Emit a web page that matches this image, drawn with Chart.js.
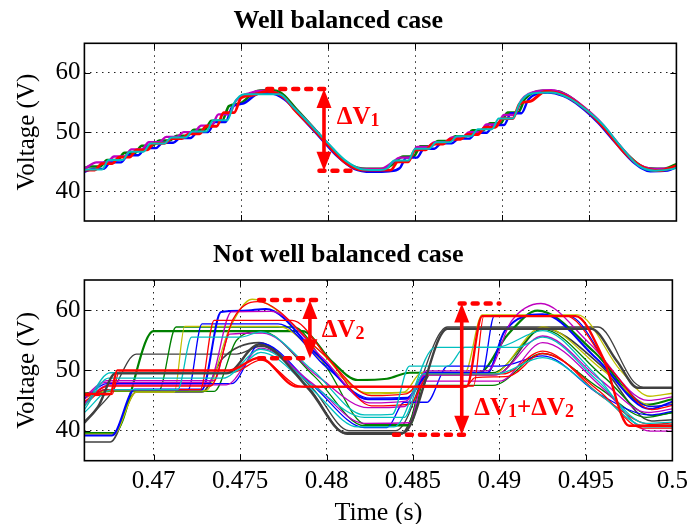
<!DOCTYPE html>
<html>
<head>
<meta charset="utf-8">
<script src="https://cdn.jsdelivr.net/npm/chart.js@4.4.1/dist/chart.umd.min.js"></script>
<style>
  html, body { margin: 0; padding: 0; background: #fff; }
  #wrap { position: relative; width: 694px; height: 524px; }
  #c1 { position: absolute; left: 0; top: 0; }
  #c2 { position: absolute; left: 0; top: 240px; }
</style>
</head>
<body>
<div id="wrap">
  <canvas id="c1" width="694" height="240"></canvas>
  <canvas id="c2" width="694" height="284"></canvas>
</div>
<script>
// axes
const X_TICKS = [0.47, 0.475, 0.48, 0.485, 0.49, 0.495, 0.5];
const X_TICK_LABELS = ['0.47', '0.475', '0.48', '0.485', '0.49', '0.495', '0.5'];
const Y_TICKS = [40, 50, 60];
const Y_TICK_LABELS = ['40', '50', '60'];

// --- Well balanced case: [time (s), voltage (V)] ---
const TOP_CYAN = [[0.466,43.6],[0.4662,43.7],[0.4670,43.7],[0.4674,45.3],[0.4682,45.3],[0.4686,46.7],[0.4694,46.7],[0.4698,48.1],[0.4706,48.1],[0.4710,49.1],[0.4718,49.1],[0.4722,50.1],[0.4730,50.1],[0.4734,52.0],[0.4742,52.0],[0.4746,54.9],[0.4752,56.4],[0.4764,56.4],[0.4772,56.4],[0.4780,54.2],[0.4790,51.2],[0.4800,48.1],[0.4810,45.2],[0.4820,43.7],[0.4830,43.6],[0.4834,43.9],[0.4838,45.2],[0.4846,45.2],[0.4850,47.2],[0.4858,47.2],[0.4862,48.3],[0.4870,48.3],[0.4874,49.3],[0.4882,49.3],[0.4886,50.5],[0.4894,50.5],[0.4898,52.3],[0.4906,52.3],[0.4910,54.9],[0.4916,56.5],[0.4928,56.7],[0.4938,55.8],[0.4948,53.8],[0.4958,51.2],[0.4968,47.6],[0.4978,44.4],[0.4988,43.5],[0.4998,43.8],[0.5,44.0]];
const TOP_RED = [[0.466,43.6],[0.4666,43.6],[0.467,44.7],[0.4676,44.7],[0.468,45.8],[0.4686,45.8],[0.469,47.0],[0.4696,47.0],[0.470,48.1],[0.4706,48.1],[0.471,48.9],[0.4716,48.9],[0.472,49.7],[0.4726,49.7],[0.473,51.0],[0.4736,51.0],[0.474,53.3],[0.4746,53.3],[0.475,55.8],[0.4756,56.2],[0.4765,56.9],[0.4775,55.8],[0.478,54.0],[0.479,51.0],[0.480,47.8],[0.481,44.8],[0.482,43.6],[0.483,43.6],[0.4836,43.6],[0.484,45.0],[0.4846,45.0],[0.485,47.0],[0.4856,47.0],[0.486,48.0],[0.4866,48.0],[0.487,48.8],[0.4876,48.8],[0.488,49.6],[0.4886,49.6],[0.489,50.8],[0.4896,50.8],[0.490,52.3],[0.4906,52.3],[0.491,54.8],[0.4916,55.2],[0.4925,56.9],[0.4935,56.3],[0.495,53.3],[0.496,50.2],[0.497,46.6],[0.498,44.2],[0.499,43.5],[0.5,44.3]];
const TOP_MAGENTA = [[0.466,43.8],[0.4667,44.9],[0.4673,44.9],[0.4677,45.9],[0.4683,45.9],[0.4687,47.1],[0.4693,47.1],[0.4697,48.3],[0.4703,48.3],[0.4707,49.2],[0.4713,49.2],[0.4717,50.0],[0.4723,50.0],[0.4727,51.1],[0.4733,51.1],[0.4737,53.0],[0.4743,53.0],[0.4747,55.3],[0.4755,56.6],[0.4763,57.0],[0.4772,56.4],[0.4780,54.2],[0.4790,51.2],[0.4800,48.0],[0.4810,45.0],[0.4820,43.8],[0.4830,43.8],[0.4837,44.9],[0.4841,45.7],[0.4847,45.7],[0.4851,47.5],[0.4857,47.5],[0.4861,48.3],[0.4867,48.3],[0.4871,49.1],[0.4877,49.1],[0.4881,50.0],[0.4887,50.0],[0.4891,51.3],[0.4897,51.3],[0.4901,52.9],[0.4907,52.9],[0.4911,55.4],[0.4920,56.9],[0.4928,57.1],[0.4937,56.3],[0.4947,54.2],[0.4957,51.5],[0.4967,47.9],[0.4977,44.8],[0.4987,43.8],[0.4997,43.9],[0.5,44.3]];
const TOP_BLUE = [[0.466,43.3],[0.4665,43.8],[0.4671,43.8],[0.4675,44.9],[0.4681,44.9],[0.4685,46.1],[0.4691,46.1],[0.4695,47.3],[0.4701,47.3],[0.4705,48.2],[0.4711,48.2],[0.4715,49.0],[0.4721,49.0],[0.4725,50.0],[0.4731,50.0],[0.4735,51.7],[0.4741,51.7],[0.4745,54.3],[0.4751,54.8],[0.4760,56.5],[0.4766,56.6],[0.4775,55.5],[0.4785,52.4],[0.4795,49.2],[0.4805,46.0],[0.4815,43.8],[0.4825,43.3],[0.4835,43.4],[0.4841,43.9],[0.4845,45.7],[0.4851,45.7],[0.4855,47.2],[0.4861,47.2],[0.4865,48.1],[0.4871,48.1],[0.4875,48.9],[0.4881,48.9],[0.4885,49.9],[0.4891,49.9],[0.4895,51.2],[0.4901,51.2],[0.4905,53.2],[0.4911,53.2],[0.4915,55.5],[0.4926,56.7],[0.4935,56.1],[0.4945,54.3],[0.4955,51.6],[0.4965,48.2],[0.4975,45.0],[0.4985,43.4],[0.4995,43.5],[0.5,44.1]];
const TOP_GREEN = [[0.466,43.9],[0.4663,44.2],[0.4669,44.2],[0.4673,45.3],[0.4679,45.3],[0.4683,46.5],[0.4689,46.5],[0.4693,47.7],[0.4699,47.7],[0.4703,48.6],[0.4709,48.6],[0.4713,49.4],[0.4719,49.4],[0.4723,50.4],[0.4729,50.4],[0.4733,51.9],[0.4739,51.9],[0.4743,54.4],[0.4749,54.8],[0.4758,56.8],[0.4765,57.1],[0.4772,56.8],[0.4782,53.8],[0.4792,50.6],[0.4802,47.3],[0.4812,44.6],[0.4822,43.8],[0.4832,43.8],[0.4838,44.8],[0.4843,45.9],[0.4849,45.9],[0.4853,47.6],[0.4859,47.6],[0.4863,48.5],[0.4869,48.5],[0.4873,49.3],[0.4879,49.3],[0.4883,50.3],[0.4889,50.3],[0.4893,51.5],[0.4899,51.5],[0.4903,53.3],[0.4909,53.3],[0.4913,55.6],[0.4923,57.0],[0.4932,56.9],[0.4942,55.3],[0.4952,52.7],[0.4962,49.6],[0.4972,46.2],[0.4982,44.0],[0.4992,43.8],[0.5,44.6]];

// --- Not well balanced case ---
const BOT_GRAY_A = [[0.466,41.3],[0.4668,44],[0.4678,49.5],[0.4742,49.5],[0.4761,54.3],[0.4790,46.8],[0.4811,39.6],[0.4844,39.6],[0.4870,56.9],[0.4953,56.9],[0.4968,51.5],[0.4980,47.1],[0.5,47.1]];
const BOT_GRAY_B = [[0.466,38.1],[0.4675,38.1],[0.4690,46.4],[0.4728,46.4],[0.4740,52],[0.4761,54.6],[0.4790,47],[0.4812,39.4],[0.4843,39.4],[0.4852,44],[0.4860,49.3],[0.4898,49.3],[0.4925,57],[0.4958,51],[0.4988,41.6],[0.5,41.8]];
const BOT_GRAY_C = [[0.466,41.5],[0.4675,46],[0.4690,52.7],[0.4748,52.7],[0.4762,54],[0.4792,47],[0.4813,40],[0.4840,40],[0.4870,57.2],[0.4957,57.2],[0.4978,48],[0.4985,47.1],[0.5,47.1]];
const BOT_GREEN_A = [[0.466,39.6],[0.4677,39.6],[0.4700,56.5],[0.4786,56.5],[0.4803,51.5],[0.4818,48.4],[0.4835,48.6],[0.4848,49.6],[0.4888,49.6],[0.4905,56],[0.4922,59.9],[0.4955,53],[0.4985,44.3],[0.5,45.2]];
const BOT_GREEN_B = [[0.466,46.2],[0.4676,46.6],[0.4703,46.6],[0.4713,57.2],[0.4781,57.2],[0.4800,50.5],[0.4823,41],[0.4847,41],[0.4855,47.5],[0.4896,47.5],[0.4925,52.8],[0.4958,47],[0.4985,42.2],[0.5,43]];
const BOT_GREEN_C = [[0.466,45.8],[0.4675,46.5],[0.4735,46.5],[0.4748,55],[0.4762,56.5],[0.4793,49],[0.4822,40.8],[0.4848,40.8],[0.4858,49.6],[0.4896,49.6],[0.4925,56.8],[0.4960,49],[0.4988,42.5],[0.5,43]];
const BOT_BLUE_A = [[0.466,39.2],[0.4676,39.2],[0.4689,46.8],[0.4728,46.8],[0.4739,59.7],[0.4752,59.9],[0.4765,60.2],[0.4795,52.5],[0.4824,45.2],[0.4846,45.3],[0.4860,49.6],[0.4893,49.6],[0.4903,56.5],[0.4925,59.3],[0.4956,52],[0.4987,43.6],[0.5,44.8]];
const BOT_BLUE_B = [[0.466,45.3],[0.4673,47.8],[0.4745,47.8],[0.4762,54.5],[0.4792,47.5],[0.4822,40.5],[0.4835,40.5],[0.4845,44.7],[0.4858,44.7],[0.4870,50.7],[0.4900,50.7],[0.4925,52.4],[0.4958,46],[0.4987,42.6],[0.5,43.2]];
const BOT_BLUE_C = [[0.466,44.6],[0.4672,46.8],[0.4720,46.8],[0.4728,57.7],[0.4772,57.7],[0.4800,50.5],[0.4825,45.4],[0.4847,45.5],[0.4857,49.6],[0.4890,49.6],[0.4897,59],[0.4940,59],[0.4965,50],[0.4987,44],[0.5,44.3]];
const BOT_OLIVE_A = [[0.466,39.4],[0.4677,39.4],[0.4690,46.4],[0.4712,46.4],[0.4718,57.3],[0.4772,57.3],[0.4800,51],[0.4825,46.1],[0.4845,46.4],[0.4855,49.6],[0.4880,49.6],[0.4890,59.2],[0.4945,59.2],[0.4970,50],[0.4987,45.7],[0.5,46.2]];
const BOT_OLIVE_B = [[0.466,45.4],[0.4673,46.6],[0.4730,46.6],[0.4744,57],[0.4757,61.8],[0.4795,53.5],[0.4823,46.3],[0.4848,46.4],[0.4856,49.2],[0.4895,49.2],[0.4925,57.2],[0.4960,50],[0.4990,44],[0.5,44.6]];
const BOT_RED_A = [[0.466,46.1],[0.4675,46.1],[0.4679,50],[0.4744,50],[0.4761,52.1],[0.4783,47.3],[0.4881,47.3],[0.4890,59],[0.4944,59],[0.4960,52],[0.4975,40.8],[0.5,40.8]];
const BOT_RED_B = [[0.466,45.8],[0.4676,46],[0.4680,49.7],[0.4746,49.7],[0.4762,51.7],[0.4782,47.6],[0.4790,47.2],[0.4880,47.2],[0.4886,48.8],[0.4905,49],[0.4925,52.8],[0.4958,46.5],[0.4983,40.4],[0.5,40.4]];
const BOT_RED_C = [[0.466,44.2],[0.4672,46.8],[0.4727,46.8],[0.4735,58.3],[0.4780,58.3],[0.4801,52],[0.4826,44.1],[0.4848,44.4],[0.4860,49.4],[0.4902,49.4],[0.4925,53.2],[0.4960,45.5],[0.4988,41],[0.5,41.3]];
const BOT_RED_D = [[0.466,44.8],[0.4674,47.4],[0.4733,47.4],[0.4746,58.5],[0.4760,61.4],[0.4797,53],[0.4826,45.8],[0.4846,46.1],[0.4853,47.4],[0.4885,47.4],[0.4891,59.1],[0.4938,59.1],[0.4965,50],[0.4988,43.5],[0.5,44.2]];
const BOT_MAGENTA_A = [[0.466,45.2],[0.4672,48],[0.4732,48],[0.4745,59.7],[0.4768,59.8],[0.4798,52],[0.4825,44.6],[0.4846,44.9],[0.4858,49.9],[0.4893,49.9],[0.4907,58.2],[0.4924,61.1],[0.4952,54.5],[0.4986,45],[0.5,45.6]];
const BOT_MAGENTA_B = [[0.466,44.5],[0.4674,47.6],[0.4742,47.6],[0.4762,53.7],[0.4791,48],[0.4822,41.2],[0.4848,41.3],[0.4856,48.2],[0.4900,48.2],[0.4925,54.6],[0.4960,47],[0.4987,39.9],[0.5,39.9]];
const BOT_MAGENTA_C = [[0.466,45.6],[0.4673,48.3],[0.4735,48.3],[0.4744,56],[0.4763,56.2],[0.4795,49],[0.4824,43.8],[0.4845,44],[0.4857,49.2],[0.4897,49.2],[0.4925,55.7],[0.4958,48.5],[0.4986,43],[0.5,43.6]];
const BOT_CYAN_A = [[0.466,43],[0.4676,46.8],[0.4714,46.8],[0.4722,55.5],[0.4750,55.5],[0.4762,56.4],[0.4792,50],[0.4822,42.6],[0.4838,42.7],[0.4848,50.7],[0.4870,50.7],[0.4880,53.8],[0.4910,53.8],[0.4925,55.5],[0.4956,48.5],[0.4985,41.2],[0.5,41.4]];
const BOT_CYAN_B = [[0.466,44],[0.4675,49.6],[0.4745,49.6],[0.4762,53],[0.4791,47],[0.4818,40.6],[0.4839,40.6],[0.4863,53.8],[0.4898,53.8],[0.4925,56.6],[0.4955,49.5],[0.4984,40.6],[0.5,40.6]];
const BOT_CYAN_C = [[0.466,43.5],[0.4674,48.7],[0.4740,48.7],[0.4762,53.5],[0.4792,47.5],[0.4822,42.2],[0.4845,42.2],[0.4856,49.4],[0.4898,49.4],[0.4925,52.1],[0.4958,46],[0.4984,40.8],[0.5,41]];

// annotation levels: [t start, t end, V]
const DV1_UPPER = [0.4765, 0.4799, 57.3];
const DV1_LOWER = [0.4795, 0.4816, 43.5];
const DV1_ARROW = [0.47976, 57.3, 43.5];
const DV1_LABEL = [0.4805, 51.4];
const DV2_UPPER = [0.4761, 0.4794, 61.7];
const DV2_LOWER = [0.4761, 0.4791, 52.0];
const DV2_ARROW = [0.47904, 61.7, 52.0];
const DV2_LABEL = [0.47972, 55.5];
const DV12_UPPER = [0.4877, 0.4900, 61.1];
const DV12_LOWER = [0.4839, 0.4880, 39.3];
const DV12_ARROW = [0.48782, 61.1, 39.3];
const DV12_LABEL = [0.48855, 42.6];

const C = { b: '#0000ff', g: '#008000', r: '#ff0000', c: '#00bfbf', m: '#bf00bf', y: '#bfbf00', k: '#404040' };
const SERIF = '"Liberation Serif", "Times New Roman", serif';

function ds(points, color, width) {
  return {
    data: points.map(p => ({ x: p[0], y: p[1] })),
    borderColor: color,
    borderWidth: width,
    pointRadius: 0,
    fill: false,
    cubicInterpolationMode: 'monotone'
  };
}

function redDots(ctx, chart, seg) {
  const xs = chart.scales.x, ys = chart.scales.y;
  ctx.save();
  ctx.strokeStyle = '#ff0000';
  ctx.lineWidth = 4.5;
  ctx.lineCap = 'round';
  ctx.setLineDash([5, 8]);
  ctx.beginPath();
  ctx.moveTo(xs.getPixelForValue(seg[0]), ys.getPixelForValue(seg[2]));
  ctx.lineTo(xs.getPixelForValue(seg[1]), ys.getPixelForValue(seg[2]));
  ctx.stroke();
  ctx.restore();
}

function redArrow(ctx, chart, a) {
  const x = chart.scales.x.getPixelForValue(a[0]);
  const y1 = chart.scales.y.getPixelForValue(a[1]);
  const y2 = chart.scales.y.getPixelForValue(a[2]);
  const hl = 19, hw = 7.5;
  ctx.save();
  ctx.strokeStyle = ctx.fillStyle = '#ff0000';
  ctx.lineWidth = 3.6;
  ctx.beginPath();
  ctx.moveTo(x, y1 + hl - 2);
  ctx.lineTo(x, y2 - hl + 2);
  ctx.stroke();
  ctx.beginPath();
  ctx.moveTo(x, y1); ctx.lineTo(x - hw, y1 + hl); ctx.lineTo(x + hw, y1 + hl); ctx.closePath();
  ctx.fill();
  ctx.beginPath();
  ctx.moveTo(x, y2); ctx.lineTo(x - hw, y2 - hl); ctx.lineTo(x + hw, y2 - hl); ctx.closePath();
  ctx.fill();
  ctx.restore();
}

function redLabel(ctx, chart, pos, parts) {
  let x = chart.scales.x.getPixelForValue(pos[0]);
  const y = chart.scales.y.getPixelForValue(pos[1]);
  ctx.save();
  ctx.fillStyle = '#ff0000';
  ctx.textBaseline = 'alphabetic';
  ctx.textAlign = 'left';
  parts.forEach(p => {
    ctx.font = p[1] ? 'bold 18px ' + SERIF : 'bold 25px ' + SERIF;
    ctx.fillText(p[0], x, p[1] ? y + 2 : y);
    x += ctx.measureText(p[0]).width;
  });
  ctx.restore();
}

function framePlugin(drawMarks) {
  return {
    id: 'frame',
    afterDatasetsDraw(chart) {
      const { ctx, chartArea: a } = chart;
      ctx.save();
      ctx.strokeStyle = '#000';
      ctx.lineWidth = 1;
      const tl = 6;
      ctx.beginPath();
      X_TICKS.forEach(v => {
        const px = Math.round(chart.scales.x.getPixelForValue(v)) + 0.5;
        ctx.moveTo(px, a.bottom); ctx.lineTo(px, a.bottom - tl);
        ctx.moveTo(px, a.top); ctx.lineTo(px, a.top + tl);
      });
      Y_TICKS.forEach(v => {
        const py = Math.round(chart.scales.y.getPixelForValue(v)) + 0.5;
        ctx.moveTo(a.left, py); ctx.lineTo(a.left + tl, py);
        ctx.moveTo(a.right, py); ctx.lineTo(a.right - tl, py);
      });
      ctx.stroke();
      ctx.lineWidth = 1.6;
      ctx.strokeRect(a.left, a.top, a.right - a.left, a.bottom - a.top);
      ctx.restore();
      drawMarks(ctx, chart);
    }
  };
}

function options(title, titlePad, showX, xHeight) {
  return {
    responsive: false,
    animation: false,
    layout: { padding: { left: 0, right: 17.6, top: 0, bottom: 0 } },
    plugins: {
      legend: { display: false },
      tooltip: { enabled: false },
      title: {
        display: true,
        text: title,
        color: '#000',
        font: { family: SERIF, size: 26, weight: 'bold', lineHeight: 1.2 },
        padding: titlePad
      }
    },
    scales: {
      x: {
        type: 'linear',
        min: 0.466,
        max: 0.5,
        afterBuildTicks: s => { s.ticks = X_TICKS.map(v => ({ value: v })); },
        afterFit: s => { s.height = xHeight; },
        grid: { color: '#222', lineWidth: 1, drawTicks: false },
        border: { display: false, dash: [1.5, 4.5] },
        ticks: {
          display: showX,
          padding: 6,
          color: '#000',
          maxRotation: 0,
          font: { family: SERIF, size: 25 },
          callback: v => X_TICK_LABELS[X_TICKS.indexOf(v)]
        },
        title: {
          display: showX,
          text: 'Time (s)',
          color: '#000',
          font: { family: SERIF, size: 26, lineHeight: 0.85 },
          padding: { top: 0, bottom: 0 }
        }
      },
      y: {
        min: 35,
        max: 65,
        afterBuildTicks: s => { s.ticks = Y_TICKS.map(v => ({ value: v })); },
        afterFit: s => { s.width = 84.4; },
        grid: { color: '#222', lineWidth: 1, drawTicks: false },
        border: { display: false, dash: [1.5, 4.5] },
        ticks: {
          padding: 4,
          color: '#000',
          font: { family: SERIF, size: 25 },
          callback: v => Y_TICK_LABELS[Y_TICKS.indexOf(v)]
        },
        title: {
          display: true,
          text: 'Voltage (V)',
          color: '#000',
          font: { family: SERIF, size: 25, lineHeight: 1.2 },
          padding: { top: 12, bottom: 0 }
        }
      }
    }
  };
}

new Chart(document.getElementById('c1'), {
  type: 'line',
  data: {
    datasets: [
      ds(TOP_CYAN, C.c, 2),
      ds(TOP_RED, C.r, 2.8),
      ds(TOP_MAGENTA, C.m, 2.4),
      ds(TOP_BLUE, C.b, 2.4),
      ds(TOP_GREEN, C.g, 2.6)
    ]
  },
  options: options('Well balanced case', { top: 6.1, bottom: 6 }, false, 13.3),
  plugins: [framePlugin((ctx, chart) => {
    redDots(ctx, chart, DV1_UPPER);
    redDots(ctx, chart, DV1_LOWER);
    redArrow(ctx, chart, DV1_ARROW);
    redLabel(ctx, chart, DV1_LABEL, [['ΔV', false], ['1', true]]);
  })]
});

new Chart(document.getElementById('c2'), {
  type: 'line',
  data: {
    datasets: [
      ds(BOT_RED_A, C.r, 2.4),
      ds(BOT_GRAY_A, C.k, 2.4),
      ds(BOT_CYAN_A, C.c, 1.3),
      ds(BOT_CYAN_B, C.c, 1.3),
      ds(BOT_CYAN_C, C.c, 1.3),
      ds(BOT_RED_B, C.r, 1.3),
      ds(BOT_RED_C, C.r, 1.3),
      ds(BOT_RED_D, C.r, 1.3),
      ds(BOT_MAGENTA_A, C.m, 1.3),
      ds(BOT_MAGENTA_B, C.m, 1.3),
      ds(BOT_MAGENTA_C, C.m, 1.3),
      ds(BOT_BLUE_A, C.b, 2),
      ds(BOT_BLUE_B, C.b, 1.3),
      ds(BOT_BLUE_C, C.b, 1.3),
      ds(BOT_OLIVE_A, C.y, 1.3),
      ds(BOT_OLIVE_B, C.y, 1.3),
      ds(BOT_GREEN_A, C.g, 2.2),
      ds(BOT_GREEN_B, C.g, 1.3),
      ds(BOT_GREEN_C, C.g, 1.3),
      ds(BOT_GRAY_B, C.k, 1.6),
      ds(BOT_GRAY_C, C.k, 1.3)
    ]
  },
  options: options('Not well balanced case', { top: 0, bottom: 8.8 }, true, 63.3),
  plugins: [framePlugin((ctx, chart) => {
    redDots(ctx, chart, DV2_UPPER);
    redDots(ctx, chart, DV2_LOWER);
    redArrow(ctx, chart, DV2_ARROW);
    redLabel(ctx, chart, DV2_LABEL, [['ΔV', false], ['2', true]]);
    redDots(ctx, chart, DV12_UPPER);
    redDots(ctx, chart, DV12_LOWER);
    redArrow(ctx, chart, DV12_ARROW);
    redLabel(ctx, chart, DV12_LABEL, [['ΔV', false], ['1', true], ['+ΔV', false], ['2', true]]);
  })]
});
</script>
</body>
</html>
